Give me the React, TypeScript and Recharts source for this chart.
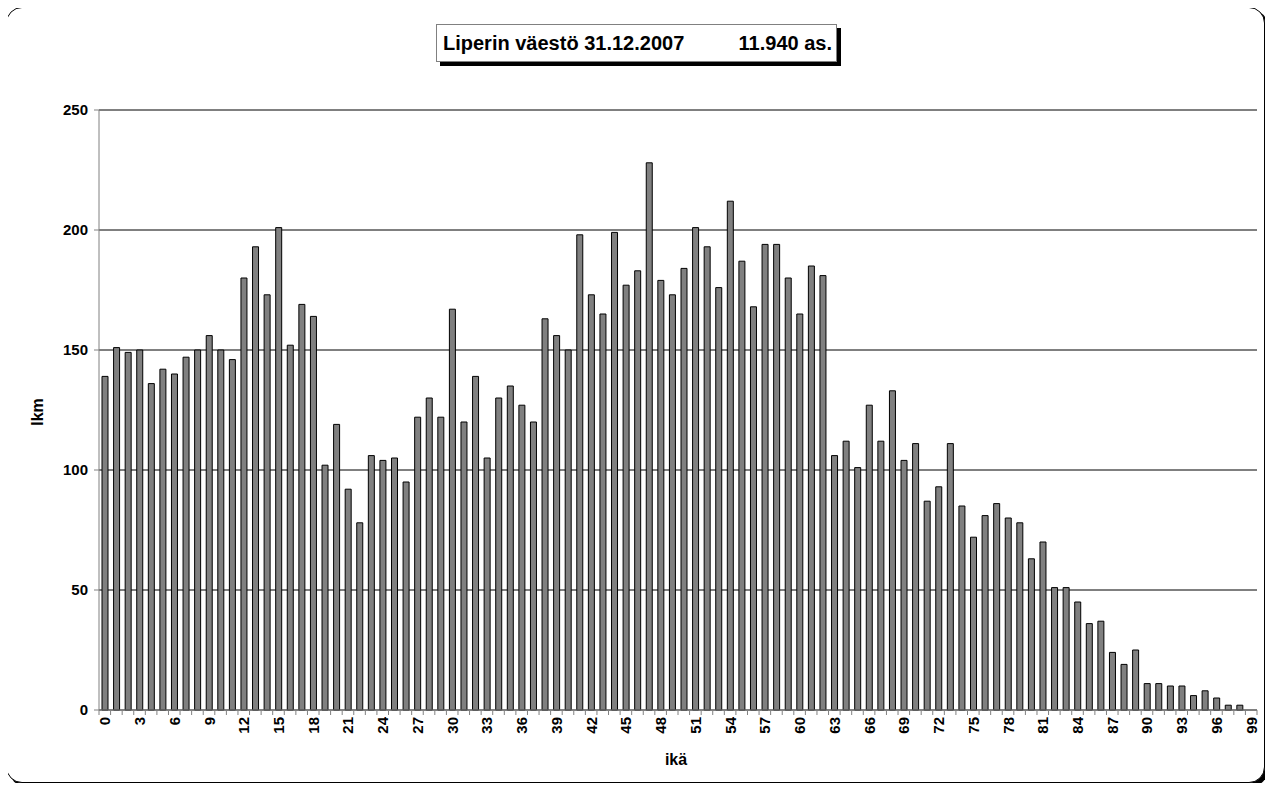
import React from 'react'
import { BarChart, Bar, XAxis, YAxis, CartesianGrid } from 'recharts'

const ages: number[] = Array.from({ length: 100 }, (_, i) => i)

const counts: number[] = [
  139, 151, 149, 150, 136, 142, 140, 147, 150, 156,
  150, 146, 180, 193, 173, 201, 152, 169, 164, 102,
  119, 92, 78, 106, 104, 105, 95, 122, 130, 122,
  167, 120, 139, 105, 130, 135, 127, 120, 163, 156,
  150, 198, 173, 165, 199, 177, 183, 228, 179, 173,
  184, 201, 193, 176, 212, 187, 168, 194, 194, 180,
  165, 185, 181, 106, 112, 101, 127, 112, 133, 104,
  111, 87, 93, 111, 85, 72, 81, 86, 80, 78,
  63, 70, 51, 51, 45, 36, 37, 24, 19, 25,
  11, 11, 10, 10, 6, 8, 5, 2, 2, 0,
]

const yTicks: number[] = [0, 50, 100, 150, 200, 250]

const titleLeft = 'Liperin väestö 31.12.2007'
const titleRight = '11.940 as.'
const yTitle = 'lkm'
const xTitle = 'ikä'

const data = ages.map((age, i) => ({ age: String(age), lkm: counts[i] }))

const W = 1273
const H = 791
const PLOT_LEFT = 99
const PLOT_RIGHT = 1257
const PLOT_TOP = 110
const PLOT_BOTTOM = 710
const BAND = (PLOT_RIGHT - PLOT_LEFT) / ages.length
const FONT = '"Liberation Sans", Arial, sans-serif'

function AgeTick(props: any) {
  const { x, y, payload, index } = props
  const left = x - BAND / 2
  return (
    <g>
      <line x1={left} y1={y} x2={left} y2={y + 5} stroke="#808080" />
      {index === ages.length - 1 && (
        <line x1={x + BAND / 2} y1={y} x2={x + BAND / 2} y2={y + 5} stroke="#808080" />
      )}
      {index % 3 === 0 && (
        <text
          x={x}
          y={y + 7}
          transform={`rotate(-90, ${x}, ${y + 7})`}
          textAnchor="end"
          dominantBaseline="central"
          fontSize={15}
          fontWeight="bold"
          fontFamily={FONT}
          fill="#000"
        >
          {payload.value}
        </text>
      )}
    </g>
  )
}

export default function App() {
  return (
    <div style={{ position: 'relative', width: W, height: H, margin: -8, fontFamily: FONT }}>
      <div
        style={{
          position: 'absolute',
          left: 6,
          top: 7,
          width: 1257,
          height: 774,
          border: '1px solid #000',
          borderRadius: 16,
          boxShadow: '3px 3px 0 #000',
          background: '#fff',
        }}
      />
      <div
        style={{
          position: 'absolute',
          left: 436,
          top: 24,
          width: 401,
          height: 38,
          border: '1px solid #808080',
          boxShadow: '4px 4px 0 #000',
          background: '#fff',
          display: 'flex',
          alignItems: 'center',
          justifyContent: 'space-between',
          padding: '0 4px 0 6px',
          boxSizing: 'border-box',
          fontSize: 20,
          fontWeight: 'bold',
          color: '#000',
          whiteSpace: 'pre',
        }}
      >
        <span>{titleLeft}</span>
        <span>{titleRight}</span>
      </div>
      <div style={{ position: 'absolute', left: 0, top: 0 }}>
        <BarChart
          width={W}
          height={H}
          data={data}
          margin={{ top: PLOT_TOP, right: W - PLOT_RIGHT, bottom: H - PLOT_BOTTOM - 40, left: PLOT_LEFT - 60 }}
        >
          <CartesianGrid vertical={false} stroke="#000" />
          <XAxis
            dataKey="age"
            interval={0}
            height={40}
            tickLine={false}
            tickSize={0}
            tickMargin={0}
            axisLine={{ stroke: '#808080' }}
            tick={<AgeTick />}
          />
          <YAxis
            width={60}
            domain={[0, 250]}
            ticks={yTicks}
            interval={0}
            tickSize={5}
            tickMargin={6}
            tickLine={{ stroke: '#808080' }}
            axisLine={{ stroke: '#808080' }}
            tick={{ fill: '#000', fontSize: 15, fontWeight: 'bold', fontFamily: FONT }}
          />
          <Bar dataKey="lkm" fill="#808080" stroke="#000" strokeWidth={1} barSize={6} isAnimationActive={false} />
        </BarChart>
      </div>
      <div
        style={{
          position: 'absolute',
          left: 38,
          top: 412,
          transform: 'translate(-50%, -50%) rotate(-90deg)',
          fontSize: 16,
          fontWeight: 'bold',
        }}
      >
        {yTitle}
      </div>
      <div
        style={{
          position: 'absolute',
          left: 676,
          top: 760,
          transform: 'translate(-50%, -50%)',
          fontSize: 16,
          fontWeight: 'bold',
        }}
      >
        {xTitle}
      </div>
    </div>
  )
}
